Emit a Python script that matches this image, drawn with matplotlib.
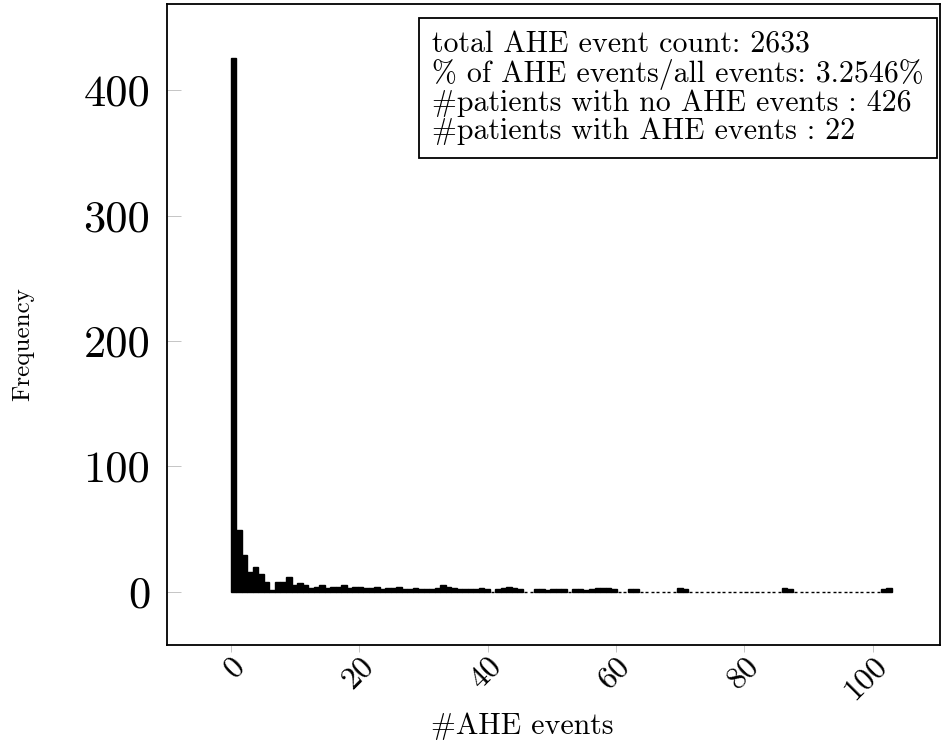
import numpy as np
import matplotlib.pyplot as plt

plt.rcParams['font.family'] = ['cmr10', 'DejaVu Serif']
plt.rcParams['mathtext.fontset'] = 'cm'
plt.rcParams['axes.formatter.use_mathtext'] = True
plt.rcParams['axes.unicode_minus'] = False

# histogram counts, 120 bins over 0..103 AHE events
counts = [426, 49, 29, 16, 20, 14, 8, 1, 8, 8, 12, 5, 7, 5, 3, 4, 5,
          3, 4, 4, 5, 3, 4, 4, 3, 3, 4, 2, 3, 3, 4, 2,
          2, 3, 2, 2, 2, 3, 5, 4, 3, 2, 2, 2, 2, 3, 2, 0,
          2, 3, 4, 3, 2, 0, 0, 2, 2, 1, 2, 2,
          2, 0, 2, 2, 1,
          2, 3, 3, 3, 2,
          0, 0, 2, 2,
          0, 0, 0, 0, 0, 0, 0,
          3, 2,
          0, 0, 0, 0, 0, 0, 0, 0, 0, 0, 0, 0, 0, 0, 0, 0, 0,
          3, 2,
          0, 0, 0, 0, 0, 0, 0, 0, 0, 0, 0, 0, 0, 0, 0, 0,
          2, 3]
x_max = 103
xticks = [0, 20, 40, 60, 80, 100]
yticks = [0, 100, 200, 300, 400]
info = ["total AHE event count: 2633",
        "% of AHE events/all events: 3.2546%",
        "#patients with no AHE events : 426",
        "#patients with AHE events : 22"]

counts = np.array(counts)
edges = np.linspace(0, x_max, len(counts) + 1)
bw = edges[1] - edges[0]
widths = np.where(counts == 0, 0.55 * bw, bw)

fig = plt.figure(figsize=(9.42, 7.46), dpi=100)
ax = fig.add_axes([0.177, 0.1354, 0.821, 0.859])
ax.bar(edges[:-1] + bw / 2, counts, width=widths, color='black',
       edgecolor='black', linewidth=1.0)

ax.set_xlim(-10, 110.5)
ax.set_ylim(-42.6, 468.6)
ax.set_xticks(xticks)
ax.set_yticks(yticks)
ax.set_xticklabels([str(t) for t in xticks], rotation=45, ha='right',
                   rotation_mode='anchor', fontsize=23)
ax.set_yticklabels([str(t) for t in yticks], fontsize=32)
ax.tick_params(axis='x', direction='out', length=5, width=0.6, color='#bbbbbb', pad=0)
ax.tick_params(axis='y', direction='in', length=10, width=0.6, color='#bbbbbb', pad=12)
for s in ax.spines.values():
    s.set_linewidth(1.3)

ax.set_xlabel("#AHE events", fontsize=21.5)
ax.xaxis.set_label_coords(0.46, -0.105)
ax.set_ylabel("Frequency", fontsize=18)
ax.yaxis.set_label_coords(-0.172, 0.47)

ax.text(0.343, 0.958, "\n".join(info), transform=ax.transAxes, fontsize=21.5,
        va='top', ha='left', linespacing=1.0,
        bbox=dict(boxstyle='square,pad=0.45', facecolor='white',
                  edgecolor='black', linewidth=1.3))

fig.savefig('out.png', dpi=100)
